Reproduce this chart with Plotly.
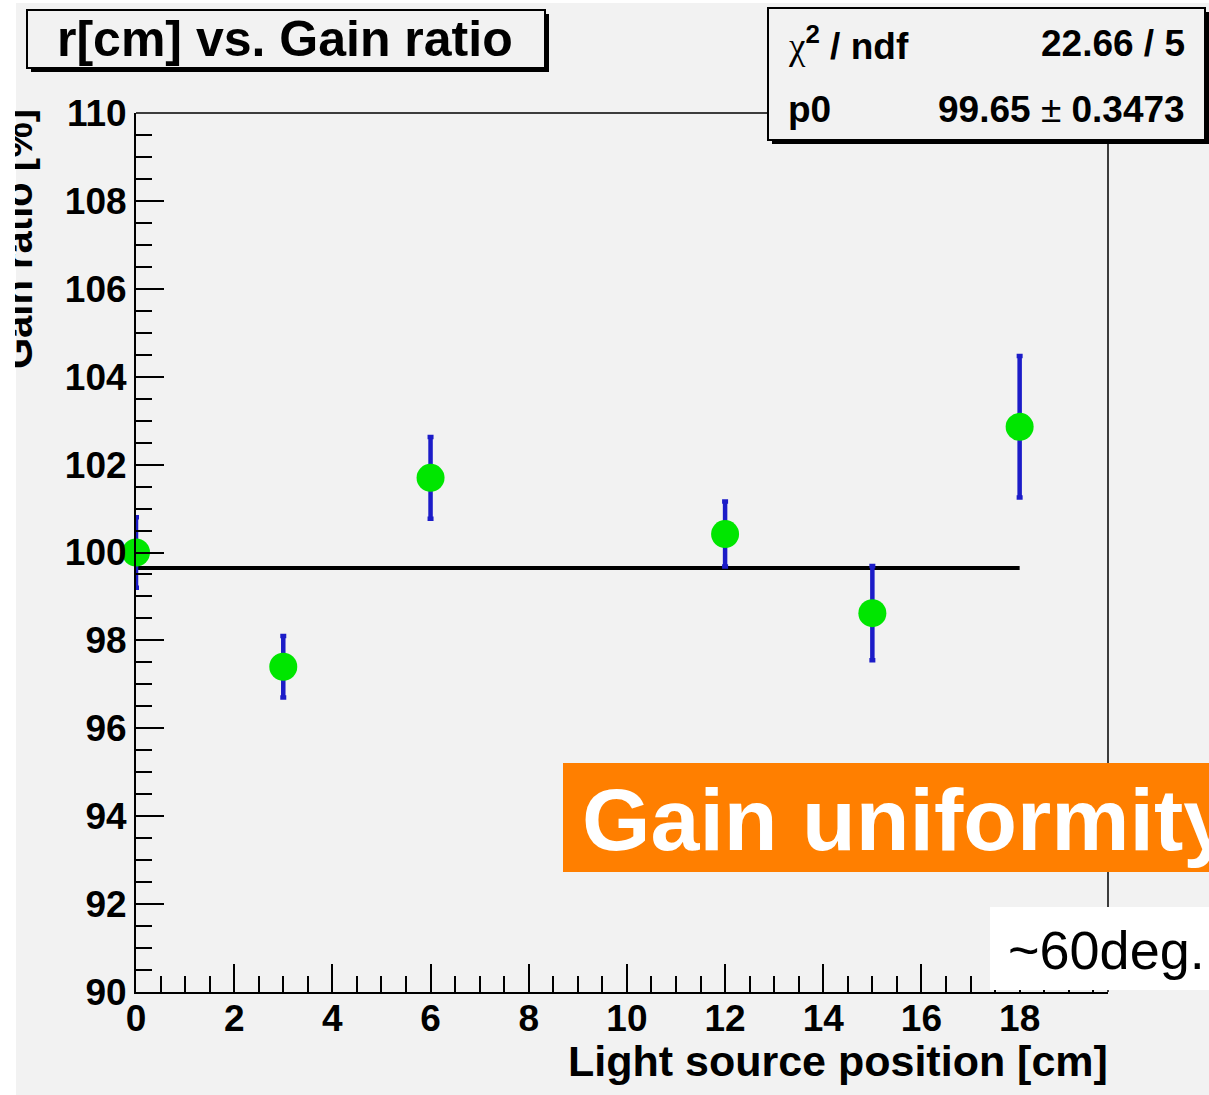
import plotly.graph_objects as go

# Light source position [cm] and measured gain ratio [%] with uncertainties
positions = [0, 3, 6, 12, 15, 18]
gain_ratio = [100.0, 97.4, 101.7, 100.42, 98.62, 102.86]
gain_err = [0.8, 0.7, 0.93, 0.74, 1.07, 1.61]

# Constant fit result
fit_p0 = 99.65
fit_p0_err = 0.3473
chi2 = 22.66
ndf = 5
fit_x = [0, 18]

x_ticks = [0, 2, 4, 6, 8, 10, 12, 14, 16, 18]
y_ticks = [90, 92, 94, 96, 98, 100, 102, 104, 106, 108, 110]

W_FIG, H_FIG = 1209, 1095
L, R, T, B = 136, 1108, 113, 992
PW, PH = R - L, B - T


def px(x):
    return (x - L) / PW


def py(y):
    return (B - y) / PH


FONT = "Liberation Sans, Arial, Helvetica, sans-serif"
BG = "#f2f2f2"

fig = go.Figure()

# fit line
fig.add_trace(go.Scatter(
    x=fit_x, y=[fit_p0, fit_p0], mode="lines",
    line=dict(color="black", width=4), hoverinfo="skip", showlegend=False,
))

# data points with error bars
fig.add_trace(go.Scatter(
    x=positions, y=gain_ratio, mode="markers",
    marker=dict(color="#00e600", size=28, line=dict(width=0)),
    error_y=dict(type="data", array=gain_err, visible=True,
                 color="#1c1cc8", thickness=4.5, width=3),
    cliponaxis=False, showlegend=False,
))

shapes = []
# canvas area (white page margin on the left and top)
shapes.append(dict(type="rect", xref="paper", yref="paper", layer="below",
                   x0=px(16), x1=px(W_FIG + 5), y0=py(H_FIG + 10), y1=py(3),
                   fillcolor=BG, line=dict(width=0)))
# frame: top and right edges
shapes.append(dict(type="line", xref="paper", yref="paper", layer="above",
                   x0=0, x1=1, y0=1, y1=1, line=dict(color="black", width=1.5)))
shapes.append(dict(type="line", xref="paper", yref="paper", layer="above",
                   x0=1, x1=1, y0=0, y1=1, line=dict(color="black", width=1.5)))

# title box with shadow
shapes.append(dict(type="rect", xref="paper", yref="paper", layer="above",
                   x0=px(31), x1=px(549), y0=py(72), y1=py(14),
                   fillcolor="black", line=dict(width=0)))
shapes.append(dict(type="rect", xref="paper", yref="paper", layer="above",
                   x0=px(27), x1=px(545), y0=py(68), y1=py(10),
                   fillcolor=BG, line=dict(color="black", width=2)))

# stats box with shadow
shapes.append(dict(type="rect", xref="paper", yref="paper", layer="above",
                   x0=px(772), x1=px(1209), y0=py(144), y1=py(12),
                   fillcolor="black", line=dict(width=0)))
shapes.append(dict(type="rect", xref="paper", yref="paper", layer="above",
                   x0=px(768), x1=px(1205), y0=py(140), y1=py(8),
                   fillcolor=BG, line=dict(color="black", width=2)))

# orange banner
shapes.append(dict(type="rect", xref="paper", yref="paper", layer="above",
                   x0=px(563), x1=px(W_FIG + 5), y0=py(872), y1=py(763),
                   fillcolor="#ff7f00", line=dict(width=0)))
# white label box
shapes.append(dict(type="rect", xref="paper", yref="paper", layer="above",
                   x0=px(990), x1=px(W_FIG + 5), y0=py(990), y1=py(907),
                   fillcolor="white", line=dict(width=0)))

annotations = []
# title
annotations.append(dict(
    xref="paper", yref="paper", x=px(285), y=py(39), xanchor="center", yanchor="middle",
    text="r[cm] vs. Gain ratio", showarrow=False,
    font=dict(family=FONT, size=50, color="black", weight="bold"),
))
# stats text
stat_font = dict(family=FONT, size=37, color="black", weight="bold")
annotations.append(dict(
    xref="paper", yref="paper", x=px(786), y=py(44), xanchor="left", yanchor="middle",
    text="<span style='font-family:Liberation Serif;font-weight:normal'>χ</span><sup>2</sup> / ndf",
    showarrow=False, font=stat_font,
))
annotations.append(dict(
    xref="paper", yref="paper", x=px(1187), y=py(44), xanchor="right", yanchor="middle",
    text=f"{chi2:.2f} / {ndf}", showarrow=False, font=stat_font,
))
annotations.append(dict(
    xref="paper", yref="paper", x=px(786), y=py(109), xanchor="left", yanchor="middle",
    text="p0", showarrow=False, font=stat_font,
))
annotations.append(dict(
    xref="paper", yref="paper", x=px(1187), y=py(109), xanchor="right", yanchor="middle",
    text=f"{fit_p0:.2f} <span style='font-weight:normal'>±</span> {fit_p0_err:.4f}",
    showarrow=False, font=stat_font,
))
# axis titles
annotations.append(dict(
    xref="paper", yref="paper", x=px(1110), y=py(1061), xanchor="right", yanchor="middle",
    text="Light source position [cm]", showarrow=False,
    font=dict(family=FONT, size=43, color="black", weight="bold"),
))
annotations.append(dict(
    xref="paper", yref="paper", x=px(18), y=py(239), xanchor="center", yanchor="middle",
    text="Gain ratio [%]", textangle=-90, showarrow=False,
    font=dict(family=FONT, size=40, color="black", weight="bold"),
))
# white page margin drawn over the clipped axis title
annotations.append(dict(
    xref="paper", yref="paper", x=px(0), y=py(0), xanchor="left", yanchor="top",
    text=" ", showarrow=False, width=15, height=H_FIG, bgcolor="white",
    borderpad=0, borderwidth=0,
))
# banner texts
annotations.append(dict(
    xref="paper", yref="paper", x=px(580), y=py(819), xanchor="left", yanchor="middle",
    text="Gain uniformity", showarrow=False,
    font=dict(family=FONT, size=88, color="white", weight="bold"),
))
annotations.append(dict(
    xref="paper", yref="paper", x=px(1006), y=py(950), xanchor="left", yanchor="middle",
    text="~60deg.", showarrow=False,
    font=dict(family=FONT, size=54, color="black"),
))

axis_common = dict(
    showgrid=False, zeroline=False, showline=True, linecolor="black", linewidth=2,
    ticks="inside", ticklen=28, tickwidth=2, tickcolor="black",
    tickfont=dict(family=FONT, size=37, color="black", weight="bold"),
)

fig.update_xaxes(
    range=[0, 19.8], tickvals=x_ticks, ticktext=[str(v) for v in x_ticks],
    ticklabelstandoff=-7,
    minor=dict(ticks="inside", ticklen=16, tickwidth=1.5, tickcolor="black", dtick=0.5, tick0=0),
    **axis_common,
)
fig.update_yaxes(
    range=[90, 110], tickvals=y_ticks, ticktext=[str(v) for v in y_ticks],
    minor=dict(ticks="inside", ticklen=16, tickwidth=1.5, tickcolor="black", dtick=0.5, tick0=90),
    **axis_common,
)

fig.update_layout(
    width=W_FIG, height=H_FIG,
    margin=dict(l=L, r=W_FIG - R, t=T, b=H_FIG - B, pad=0),
    paper_bgcolor="white", plot_bgcolor=BG,
    shapes=shapes, annotations=annotations, showlegend=False,
)

fig.write_html("out.html")
